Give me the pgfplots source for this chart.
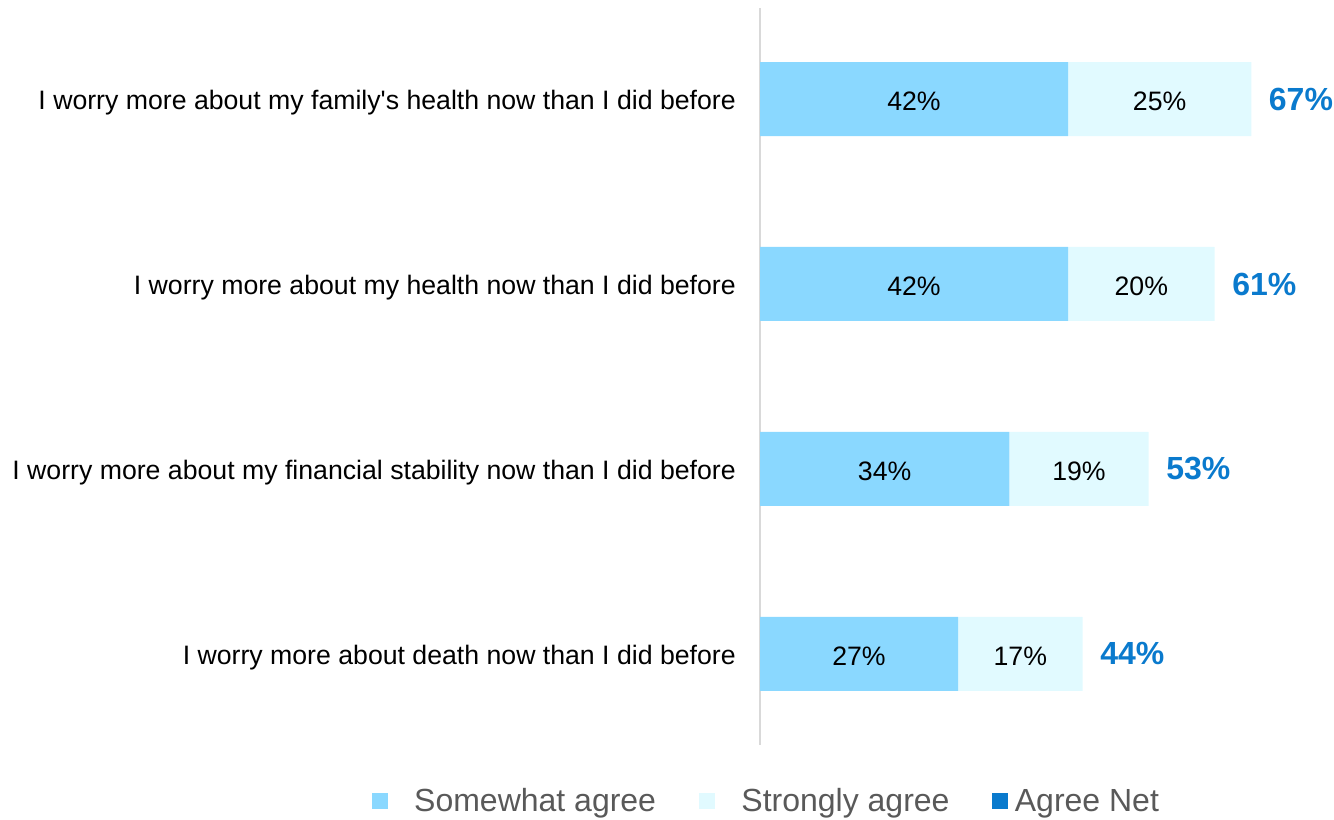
\documentclass[border=0pt]{standalone}
\usepackage{pgfplots}
\pgfplotsset{compat=1.18}
\usepackage{fontspec}
\setmainfont{Liberation Sans}
\definecolor{somewhat}{HTML}{8AD8FF}
\definecolor{strongly}{HTML}{E1FAFF}
\definecolor{netblue}{HTML}{0A7ACD}
\definecolor{legendgrey}{HTML}{595959}
\definecolor{axisgrey}{HTML}{D9D9D9}
\begin{document}
\begin{tikzpicture}
\path[use as bounding box] (0,0) rectangle (1000.5pt,615pt);
\begin{axis}[
  at={(570pt,56.25pt)}, anchor=south west,
  scale only axis, width=429pt, height=552.75pt,
  xmin=0, xmax=78, ymin=-0.492, ymax=3.492,
  xbar stacked, bar width=55.5pt,
  axis x line=none, axis y line*=left,
  y axis line style={draw=axisgrey, line width=1.5pt},
  ytick={0,1,2,3},
  yticklabels={I worry more about death now than I did before,
    I worry more about my financial stability now than I did before,
    I worry more about my health now than I did before,
    I worry more about my family\textquotesingle s health now than I did before},
  major tick length=0pt,
  yticklabel style={font=\fontsize{20}{24}\selectfont, inner sep=0pt, xshift=-18pt, yshift=-3pt, text=black},
  legend style={at={(0.0115,-0.0765)}, anchor=center, draw=none, fill=none,
    font=\fontsize{24}{28}\selectfont, text=legendgrey,
    /tikz/every even column/.append style={column sep=30pt}},
  legend columns=3,
]
\addplot[fill=somewhat, draw=none,
  legend image code/.code={\fill[somewhat, draw=none] (0pt,-6pt) rectangle (12pt,6pt); \path[draw=none, fill=none] (0pt,0pt) rectangle (30pt,0pt);}]
  coordinates {(27,0) (34,1) (42,2) (42,3)};
\addlegendentry{Somewhat agree}
\addplot[fill=strongly, draw=none,
  legend image code/.code={\fill[strongly, draw=none] (0pt,-6pt) rectangle (12pt,6pt); \path[draw=none, fill=none] (0pt,0pt) rectangle (30pt,0pt);}]
  coordinates {(17,0) (19,1) (20,2) (25,3)};
\addlegendentry{Strongly agree}
\addlegendimage{legend image code/.code={\fill[netblue, draw=none] (0pt,-6pt) rectangle (12pt,6pt); \path[draw=none, fill=none] (0pt,0pt) rectangle (15pt,0pt);}}
\addlegendentry{Agree Net}
\end{axis}
\begin{axis}[
  at={(570pt,56.25pt)}, anchor=south west,
  scale only axis, width=429pt, height=552.75pt,
  xmin=0, xmax=78, ymin=-0.492, ymax=3.492,
  hide axis, clip=false,
]
\addplot[draw=none, mark=none, nodes near coords, point meta=explicit symbolic,
  nodes near coords align={center},
  every node near coord/.append style={anchor=center, yshift=-2pt, font=\fontsize{20}{24}\selectfont, text=black}]
  coordinates {(13.5,0)[27\%] (17,1)[34\%] (21,2)[42\%] (21,3)[42\%]
               (35.5,0)[17\%] (43.5,1)[19\%] (52,2)[20\%] (54.5,3)[25\%]};
\addplot[draw=none, mark=none, nodes near coords, point meta=explicit symbolic,
  nodes near coords align={center},
  every node near coord/.append style={anchor=west, inner sep=0pt, xshift=13pt, font=\fontsize{24}{28}\selectfont\bfseries, text=netblue}]
  coordinates {(44,0)[44\%] (53,1)[53\%] (62,2)[61\%] (67,3)[67\%]};
\end{axis}
\end{tikzpicture}
\end{document}
